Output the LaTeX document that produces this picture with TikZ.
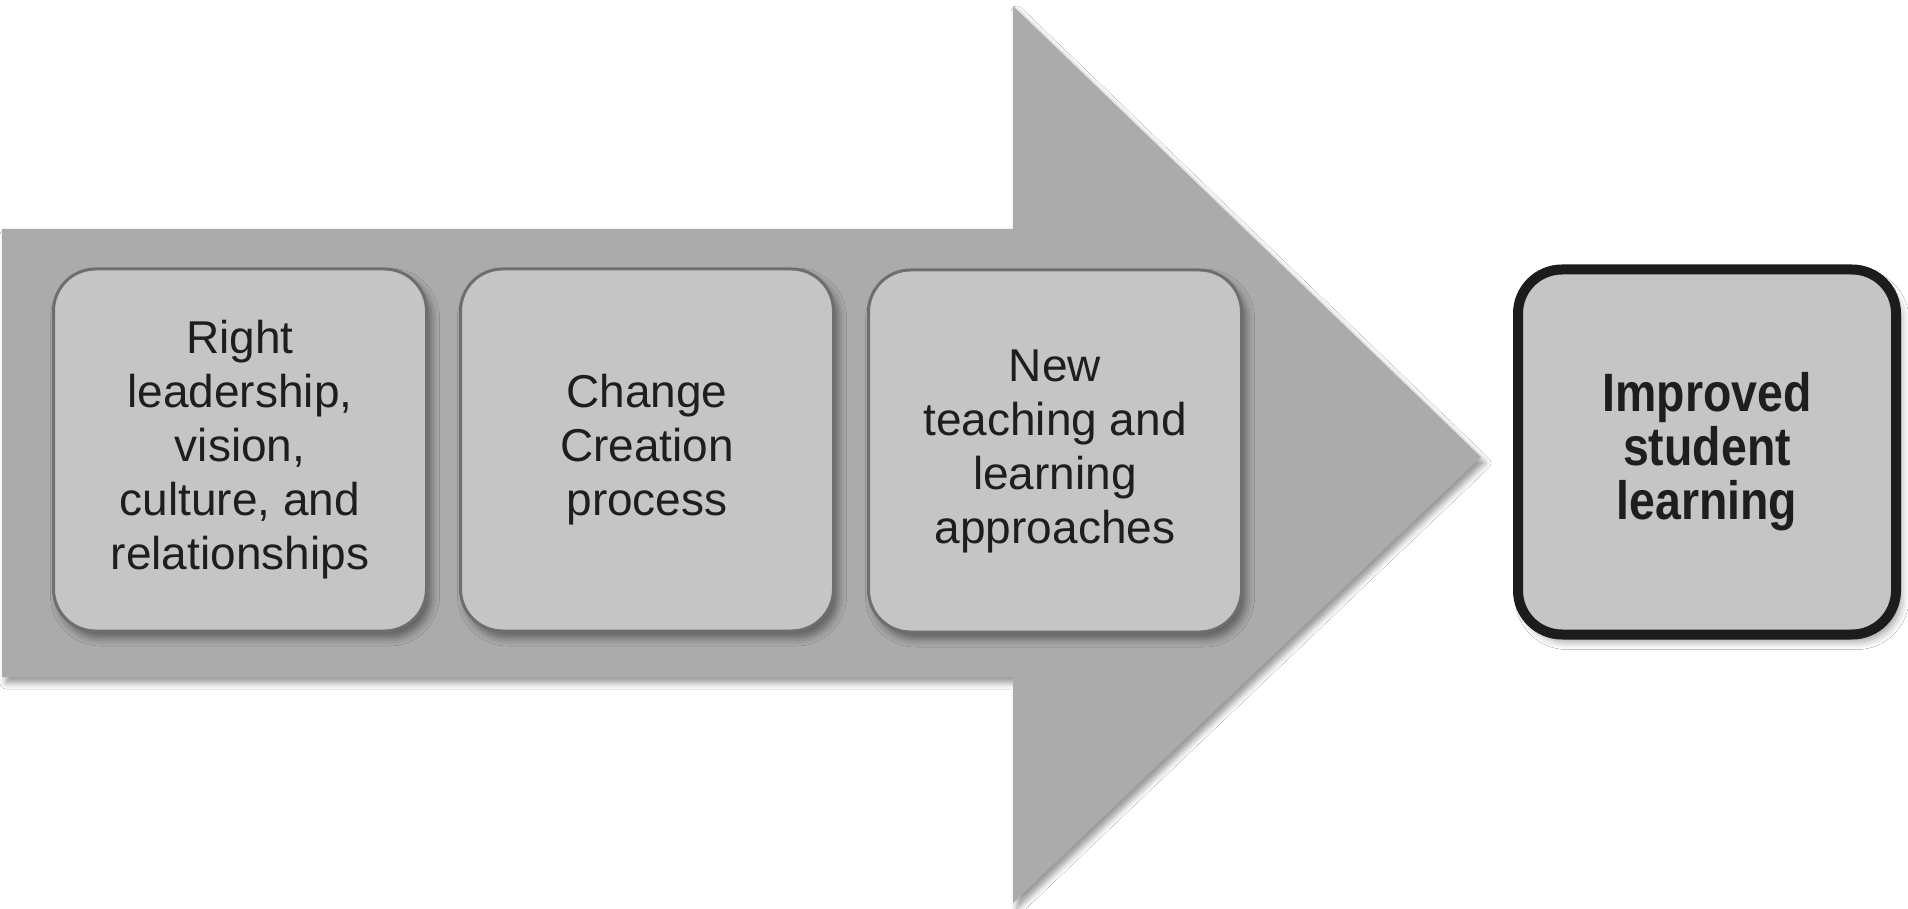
\documentclass[tikz,border=0pt]{standalone}
\usepackage{fontspec}
\setmainfont{Liberation Sans}
\newfontfamily\boldcn{Liberation Sans Bold}[FakeStretch=0.86]
\usetikzlibrary{shadows.blur}
\definecolor{arrowgray}{HTML}{ABABAB}
\definecolor{boxfill}{HTML}{C5C5C5}
\definecolor{boxline}{HTML}{6E6E6E}
\definecolor{textdark}{HTML}{1E1E1E}
\definecolor{outline}{HTML}{1C1C1C}
\tikzset{
  stepbox/.style={draw=boxline, line width=1.5pt, fill=boxfill, rounded corners=21pt,
    minimum width=186.5pt, minimum height=181pt, align=center, text=textdark,
    inner sep=0pt, font=\fontsize{23pt}{27pt}\selectfont,
    blur shadow={shadow xshift=2.5pt, shadow yshift=-3.5pt, shadow blur radius=4pt, shadow opacity=45}},
  goalbox/.style={draw=outline, line width=5pt, fill=boxfill, rounded corners=22pt,
    minimum width=189pt, minimum height=182.5pt, align=center, text=textdark,
    inner sep=0pt, font=\boldcn\fontsize{27pt}{27pt}\selectfont,
    blur shadow={shadow xshift=2.5pt, shadow yshift=-3.5pt, shadow blur radius=4pt, shadow opacity=40}},
  bigarrow/.style={fill=arrowgray,
    blur shadow={shadow xshift=2pt, shadow yshift=-3pt, shadow blur radius=3pt, shadow opacity=40}}
}
\begin{document}
\begin{tikzpicture}[x=0.5pt, y=-0.5pt]
\useasboundingbox (0,0) rectangle (1908,909);
\fill[white] (0,0) rectangle (1908,909);
% big arrow
\path[bigarrow] (2,229) -- (1013,229) -- (1013,6) -- (1481,457) -- (1013,903) -- (1013,677) -- (2,677) -- cycle;
% step boxes
\node[stepbox] (b1) at (240,450) {Right\\leadership,\\vision,\\culture, and\\relationships};
\node[stepbox] (b2) at (647,450) {Change\\Creation\\process};
\node[stepbox] (b3) at (1055,451) {New\\teaching and\\learning\\approaches};
% goal box
\node[goalbox] (g) at (1707,452) {Improved\\student\\learning};
\end{tikzpicture}
\end{document}
